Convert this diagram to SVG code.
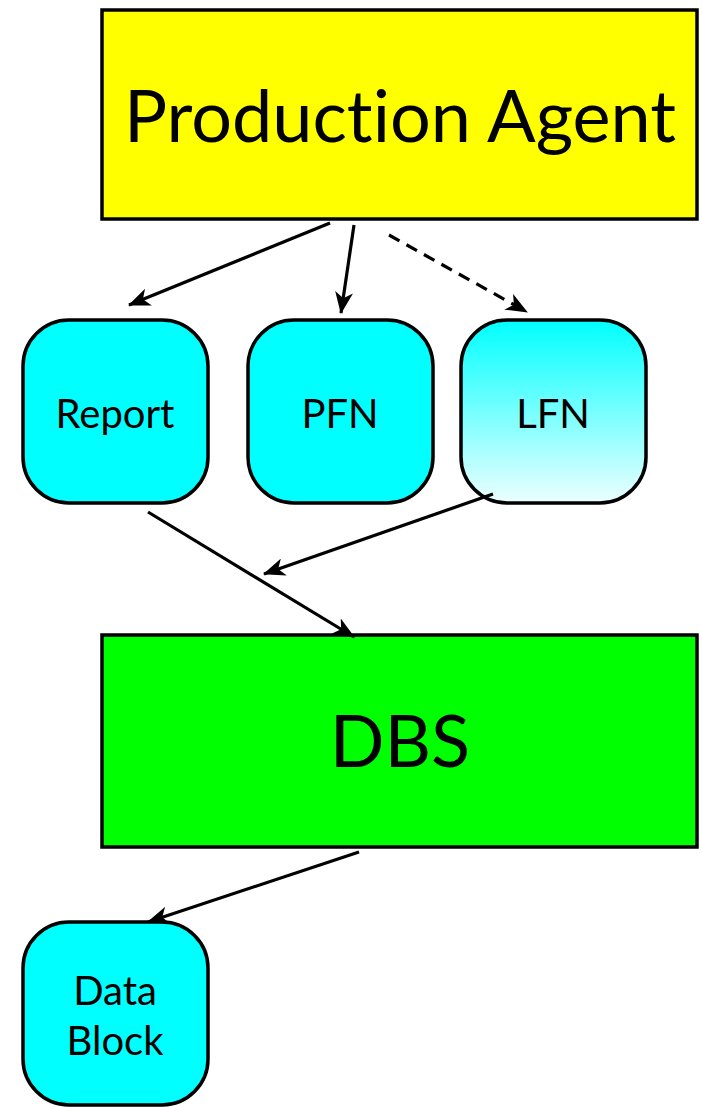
<svg xmlns="http://www.w3.org/2000/svg" width="702" height="1107" viewBox="0 0 702 1107">
  <style>
    .box { stroke: #000; stroke-width: 3.5; }
    .node { fill: #00ffff; stroke: #000; stroke-width: 3.5; }
    .label { font-family: Lato, "Open Sans", "Liberation Sans", sans-serif; fill: #000; text-anchor: middle; font-variant-ligatures: none; }
    .big { font-size: 72px; }
    .small { font-size: 40px; }
    .edge { stroke: #000; stroke-width: 3.2; fill: none; marker-end: url(#arrow); }
    .dashed { stroke-dasharray: 12 8; }
  </style>
  <defs>
    <marker id="arrow" viewBox="0 0 22 18" refX="21" refY="9" markerWidth="22" markerHeight="18" markerUnits="userSpaceOnUse" orient="auto">
      <path d="M0,0 L22,9 L0,18 L6,9 Z" fill="#000"/>
    </marker>
    <linearGradient id="lfnFill" x1="0" y1="0" x2="0" y2="1">
      <stop offset="0" stop-color="#00ffff"/>
      <stop offset="1" stop-color="#ecffff"/>
    </linearGradient>
  </defs>

  <g id="production-agent">
    <rect class="box" x="102" y="10" width="595" height="209" fill="#ffff00"/>
    <text class="label big" x="400" y="142">Production Agent</text>
  </g>

  <g id="report">
    <rect class="node" x="23" y="320" width="185" height="183" rx="46"/>
    <text class="label small" x="115" y="428">Report</text>
  </g>

  <g id="pfn">
    <rect class="node" x="248" y="320" width="185" height="183" rx="46"/>
    <text class="label small" x="340" y="428">PFN</text>
  </g>

  <g id="lfn">
    <rect class="box" x="461" y="320" width="185" height="183" rx="46" fill="url(#lfnFill)"/>
    <text class="label small" x="553" y="428">LFN</text>
  </g>

  <g id="dbs">
    <rect class="box" x="102" y="635" width="595" height="212" fill="#00ff00"/>
    <text class="label big" x="400" y="767">DBS</text>
  </g>

  <g id="data-block">
    <rect class="node" x="23" y="922" width="185" height="183" rx="46"/>
    <text class="label small" x="115" y="1005">Data</text>
    <text class="label small" x="115" y="1055">Block</text>
  </g>

  <g id="connectors">
    <line class="edge" x1="330" y1="223" x2="129" y2="305"/>
    <line class="edge" x1="354" y1="225" x2="341" y2="313"/>
    <line class="edge dashed" x1="389" y1="235" x2="527" y2="312"/>
    <line class="edge" x1="148" y1="512" x2="354" y2="637"/>
    <line class="edge" x1="493" y1="494" x2="264" y2="574"/>
    <line class="edge" x1="359" y1="852" x2="148" y2="922"/>
  </g>
</svg>
